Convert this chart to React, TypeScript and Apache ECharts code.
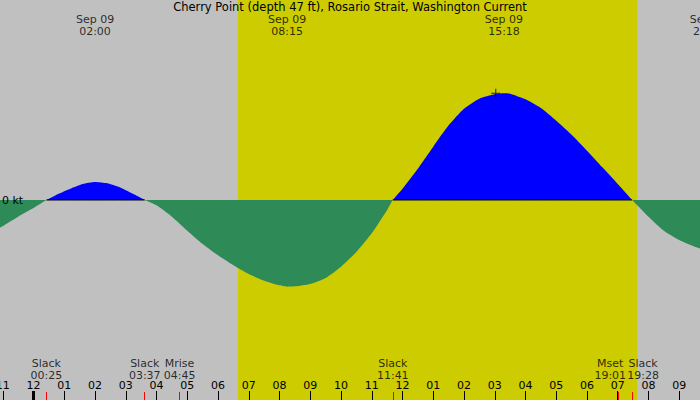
import { useEffect, useRef } from 'react';
import * as echarts from 'echarts';

const FONT = 'DejaVu Sans';
const TITLE = 'Cherry Point (depth 47 ft), Rosario Strait, Washington Current';

// hours since midnight, Sep 09
const times = [
  -1.1, -0.5, 0, 0.42, 0.8, 1.2, 1.6, 2.0, 2.4, 2.8, 3.2, 3.62,
  4.0, 4.5, 5.0, 5.5, 6.0, 6.5, 7.0, 7.5, 8.0, 8.25, 8.5, 9.0, 9.5,
  10.0, 10.5, 11.0, 11.5, 11.68, 12.0, 12.5, 13.0, 13.5, 14.0, 14.5,
  15.0, 15.3, 15.5, 16.0, 16.5, 17.0, 17.5, 18.0, 18.5, 19.0, 19.47,
  20.0, 20.5, 21.0, 21.5, 21.7,
];
// current speed in knots (flood +, ebb -)
const speeds = [
  -0.42, -0.25, -0.12, 0, 0.09, 0.17, 0.24, 0.27, 0.25, 0.19, 0.1, 0,
  -0.08, -0.25, -0.46, -0.66, -0.83, -0.98, -1.11, -1.21, -1.28, -1.3, -1.295, -1.26, -1.17,
  -1.0, -0.78, -0.5, -0.15, 0, 0.17, 0.47, 0.8, 1.12, 1.37, 1.52,
  1.585, 1.6, 1.595, 1.51, 1.38, 1.19, 0.98, 0.74, 0.49, 0.24, 0,
  -0.25, -0.46, -0.6, -0.7, -0.73,
];

const hourTicks = [-1, 0, 1, 2, 3, 4, 5, 6, 7, 8, 9, 10, 11, 12, 13, 14, 15, 16, 17, 18, 19, 20, 21];

const eventNames = ['Slack', 'Slack', 'Mrise', 'Slack', 'Mset', 'Slack'];
const eventClock = ['00:25', '03:37', '04:45', '11:41', '19:01', '19:28'];
const eventNudge = [0, 0, 0, 0, -8, 11];

const maxDates = ['Sep 09', 'Sep 09', 'Sep 09', 'Sep 09'];
const maxClock = ['02:00', '08:15', '15:18', '21:58'];

const SUNRISE = '06:39';
const SUNSET = '19:38';
const peakMarkClock = '15:02';
const peakMarkSpeed = 1.6;

const X_MIN = -1.09;
const X_MAX = 21.675;
const Y_MIN = -3;
const Y_MAX = 3;

const toHours = (s: string) => {
  const [h, m] = s.split(':').map(Number);
  return h + m / 60;
};

const hourLabel = (v: number) => {
  const h = ((Math.round(v) % 12) + 12) % 12;
  return h === 0 ? '12' : String(h).padStart(2, '0');
};

export default function App() {
  const chartRef = useRef<HTMLDivElement>(null);

  useEffect(() => {
    document.body.style.margin = '0';
    if (!chartRef.current) return;
    const chart = echarts.init(chartRef.current, null, { renderer: 'svg' });

    // split into flood / ebb runs, each run bounded by slack (0) points
    const flood = times.map((t, i) => [t, speeds[i] >= 0 ? speeds[i] : '-']);
    const ebb = times.map((t, i) => [t, speeds[i] <= 0 ? speeds[i] : '-']);
    const floodBase = times.map((t, i) => [t, speeds[i] >= 0 ? 0 : '-']);
    const eventHours = eventClock.map(toHours);

    const txt = { fontFamily: FONT, fontSize: 11, color: '#000' };
    const bareAxis = {
      type: 'value',
      min: X_MIN,
      max: X_MAX,
      position: 'bottom',
      axisLine: { show: false, onZero: false },
      splitLine: { show: false },
    };

    const option = {
      animation: false,
      backgroundColor: '#c0c0c0',
      title: {
        text: TITLE,
        left: 'center',
        top: 1,
        padding: 0,
        textStyle: { ...txt, fontSize: 11.5, fontWeight: 'normal' },
      },
      grid: {
        left: 0,
        right: 0,
        top: 0,
        bottom: 0,
        containLabel: false,
        outerBoundsMode: 'none',
      },
      xAxis: [
        {
          ...bareAxis,
          z: 10,
          axisTick: {
            show: true,
            inside: true,
            length: 9,
            customValues: hourTicks,
            lineStyle: { color: '#000', width: 1 },
          },
          axisLabel: {
            show: true,
            inside: true,
            margin: 9,
            customValues: hourTicks,
            formatter: hourLabel,
            ...txt,
          },
        },
        {
          ...bareAxis,
          z: 11,
          axisLabel: { show: false },
          axisTick: {
            show: true,
            inside: true,
            length: 8,
            customValues: eventHours,
            lineStyle: { color: '#ff0000', width: 1 },
          },
        },
        {
          ...bareAxis,
          z: 12,
          axisLabel: { show: false },
          axisTick: {
            show: true,
            inside: true,
            length: 9,
            customValues: [0],
            lineStyle: { color: '#000', width: 3 },
          },
        },
      ],
      yAxis: {
        type: 'value',
        min: Y_MIN,
        max: Y_MAX,
        z: 10,
        axisLine: { show: false, onZero: false },
        axisTick: { show: false },
        splitLine: { show: false },
        axisLabel: {
          show: true,
          inside: true,
          margin: 2,
          customValues: [0],
          formatter: () => '0 kt',
          ...txt,
        },
      },
      series: [
        {
          type: 'line',
          data: [],
          z: 0,
          markArea: {
            silent: true,
            itemStyle: { color: '#cccc00', opacity: 1 },
            data: [[{ xAxis: toHours(SUNRISE) }, { xAxis: toHours(SUNSET) }]],
          },
        },
        {
          type: 'line',
          data: ebb,
          z: 2,
          symbol: 'none',
          smooth: 0.2,
          connectNulls: false,
          lineStyle: { width: 0 },
          areaStyle: { color: '#2e8b57', opacity: 1 },
        },
        {
          type: 'line',
          data: flood,
          z: 2,
          symbol: 'none',
          smooth: 0.2,
          connectNulls: false,
          lineStyle: { width: 0 },
          areaStyle: { color: '#0000ff', opacity: 1 },
        },
        {
          type: 'line',
          data: floodBase,
          z: 3,
          symbol: 'none',
          connectNulls: false,
          lineStyle: { color: '#000', width: 1 },
        },
        {
          type: 'scatter',
          z: 4,
          data: [[toHours(peakMarkClock), peakMarkSpeed]],
          symbol: 'path://M4,0h1v4h4v1h-4v4h-1v-4h-4v-1h4z',
          symbolSize: 9,
          itemStyle: { color: '#000' },
        },
        {
          type: 'scatter',
          z: 5,
          clip: false,
          symbolSize: 0,
          data: maxClock.map((c, i) => ({
            value: [toHours(c), Y_MAX],
            label: { formatter: `${maxDates[i]}\n${c}` },
          })),
          label: {
            show: true,
            position: 'bottom',
            distance: 13,
            lineHeight: 12.5,
            align: 'center',
            ...txt,
          },
        },
        {
          type: 'scatter',
          z: 5,
          clip: false,
          symbolSize: 0,
          data: eventNames.map((n, i) => ({
            value: [eventHours[i], Y_MIN],
            label: { formatter: `${n}\n${eventClock[i]}`, offset: [eventNudge[i], 0] },
          })),
          label: {
            show: true,
            position: 'top',
            distance: 19,
            lineHeight: 12,
            align: 'center',
            ...txt,
          },
        },
      ],
    };

    chart.setOption(option);
    return () => chart.dispose();
  }, []);

  return <div ref={chartRef} style={{ width: '700px', height: '400px' }}></div>;
}
